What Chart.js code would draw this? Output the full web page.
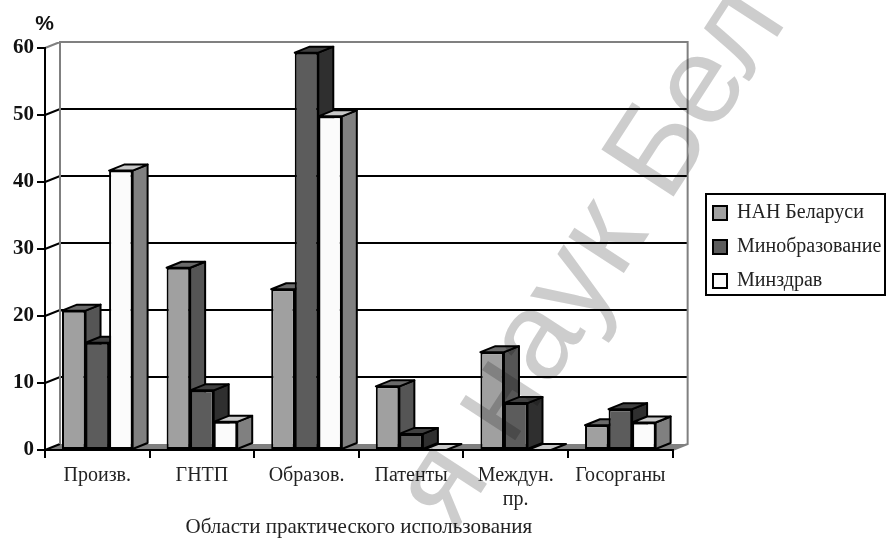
<!DOCTYPE html>
<html>
<head>
<meta charset="utf-8">
<style>body { margin: 0; background: #fff; } canvas { display: block; }</style>
<script src="https://cdn.jsdelivr.net/npm/chart.js@4"></script>
</head>
<body>
<canvas id="chart" width="886" height="538"></canvas>
<script>
const categories = ['Произв.', 'ГНТП', 'Образов.', 'Патенты', ['Междун.', 'пр.'], 'Госорганы']
const nanBelarus = [20.8, 27.2, 24, 9.5, 14.6, 3.7]
const minobr = [16, 8.9, 59.3, 2.4, 7, 6.1]
const minzdrav = [41.7, 4.2, 49.8, 0, 0, 4.1]

const serif = "'Liberation Serif', serif"
const depthX = 15
const depthY = -6

// side and top colours for each dataset
const faces = [
    { side: '#555555', top: '#6a6a6a' },
    { side: '#2f2f2f', top: '#404040' },
    { side: '#808080', top: '#c8c8c8' },
]

function poly(ctx, pts, fill, stroke, width) {
    ctx.beginPath()
    pts.forEach((p, i) => i ? ctx.lineTo(p[0], p[1]) : ctx.moveTo(p[0], p[1]))
    ctx.closePath()
    if (fill) {
        ctx.fillStyle = fill
        ctx.fill()
    }
    if (stroke) {
        ctx.strokeStyle = stroke
        ctx.lineWidth = width
        ctx.stroke()
    }
}

const box3d = {
    id: 'box3d',
    afterLayout(chart) {
        // legend sits in its own framed box, not where the layout puts it
        const legend = chart.legend
        legend.left = 699
        legend.right = chart.width
        legend.top = 189
        legend.bottom = legend.top + legend.height
    },
    beforeDraw(chart) {
        const ctx = chart.ctx
        const y = chart.scales.y
        const { left, right, top, bottom } = chart.chartArea
        ctx.save()
        ctx.fillStyle = '#fff'
        ctx.fillRect(0, 0, chart.width, chart.height)

        // floor
        poly(ctx, [[left, bottom], [left + depthX, bottom + depthY], [right + depthX, bottom + depthY], [right, bottom]], '#808080')

        // grid lines on the back wall and the left wall
        y.ticks.forEach(t => {
            if (t.value === 0 || t.value === 60) return
            const py = y.getPixelForValue(t.value)
            ctx.beginPath()
            ctx.moveTo(left, py)
            ctx.lineTo(left + depthX, py + depthY)
            ctx.lineTo(right + depthX, py + depthY)
            ctx.strokeStyle = '#000'
            ctx.lineWidth = 2
            ctx.stroke()
        })
        ctx.beginPath()
        ctx.moveTo(left, bottom)
        ctx.lineTo(left + depthX, bottom + depthY)
        ctx.strokeStyle = '#000'
        ctx.lineWidth = 2
        ctx.stroke()

        // wall outline
        ctx.beginPath()
        ctx.moveTo(left + depthX, bottom + depthY)
        ctx.lineTo(left + depthX, top + depthY)
        ctx.lineTo(right + depthX, top + depthY)
        ctx.lineTo(right + depthX, bottom + depthY)
        ctx.lineTo(right, bottom)
        ctx.moveTo(left, top)
        ctx.lineTo(left + depthX, top + depthY)
        ctx.strokeStyle = '#808080'
        ctx.lineWidth = 2
        ctx.stroke()
        ctx.restore()
    },
    beforeDatasetsDraw(chart) {
        const ctx = chart.ctx
        ctx.save()
        ctx.lineJoin = 'round'
        categories.forEach((c, i) => {
            chart.data.datasets.forEach((ds, d) => {
                const bar = chart.getDatasetMeta(d).data[i]
                const x0 = bar.x - bar.width / 2
                const x1 = bar.x + bar.width / 2
                const b = bar.base
                const t = bar.y
                if (ds.data[i] > 0) {
                    poly(ctx, [[x1, t], [x1 + depthX, t + depthY], [x1 + depthX, b + depthY], [x1, b]], faces[d].side, '#000', 2)
                }
                poly(ctx, [[x0, t], [x0 + depthX, t + depthY], [x1 + depthX, t + depthY], [x1, t]], faces[d].top, '#000', 2)
                bar.draw(ctx)
            })
        })
        ctx.restore()
        return false
    },
    afterDraw(chart) {
        const ctx = chart.ctx
        ctx.save()

        // legend frame
        ctx.strokeStyle = '#000'
        ctx.lineWidth = 2
        ctx.strokeRect(706, 194, 179, 101)

        // unit label over the value axis
        ctx.fillStyle = '#111'
        ctx.font = "bold 21px 'Liberation Sans', sans-serif"
        ctx.textAlign = 'center'
        ctx.textBaseline = 'middle'
        ctx.fillText('%', 44.5, 24)

        // scanned watermark
        ctx.globalCompositeOperation = 'multiply'
        ctx.translate(668, 205)
        ctx.rotate(-57 * Math.PI / 180)
        ctx.fillStyle = '#cdcdcd'
        ctx.font = "125px 'Liberation Sans', sans-serif"
        ctx.textBaseline = 'alphabetic'
        ctx.textAlign = 'left'
        ctx.fillText('Бел', 0, 0)
        ctx.textAlign = 'right'
        ctx.fillText('я наук ', 0, 0)
        ctx.restore()
    },
}

const ctx = document.getElementById('chart').getContext('2d')
const chart = new Chart(ctx, {
    type: 'bar',
    data: {
        labels: categories,
        datasets: [{
            label: 'НАН Беларуси',
            data: nanBelarus,
            backgroundColor: '#a0a0a0',
        }, {
            label: 'Минобразование',
            data: minobr,
            backgroundColor: '#5c5c5c',
        }, {
            label: 'Минздрав',
            data: minzdrav,
            backgroundColor: '#fbfbfb',
        }],
    },
    options: {
        responsive: false,
        animation: false,
        layout: {
            padding: { top: 48, right: 21, bottom: 0, left: 0 },
        },
        datasets: {
            bar: {
                borderColor: '#000',
                borderWidth: 2,
                borderSkipped: false,
                categoryPercentage: 0.675,
                barPercentage: 1,
            },
        },
        scales: {
            x: {
                afterFit: scale => { scale.height = 88 },
                grid: { drawOnChartArea: false, color: '#000', lineWidth: 2, tickLength: 8 },
                border: { color: '#000', width: 2 },
                ticks: {
                    color: '#222',
                    padding: 6,
                    autoSkip: false,
                    maxRotation: 0,
                    font: { family: serif, size: 20, lineHeight: 1.2 },
                },
                title: {
                    display: true,
                    text: 'Области практического использования',
                    color: '#222',
                    padding: { top: 0, bottom: -2 },
                    font: { family: serif, size: 21 },
                },
            },
            y: {
                min: 0,
                max: 60,
                afterFit: scale => { scale.width = 45 },
                grid: { drawOnChartArea: false, color: '#000', lineWidth: 2, tickLength: 8 },
                border: { color: '#000', width: 2 },
                ticks: {
                    stepSize: 10,
                    color: '#111',
                    padding: 3,
                    font: { family: serif, size: 21, weight: 'bold' },
                },
            },
        },
        plugins: {
            tooltip: { enabled: false },
            legend: {
                position: 'right',
                align: 'start',
                labels: {
                    color: '#222',
                    boxWidth: 14,
                    boxHeight: 14,
                    padding: 14,
                    font: { family: serif, size: 20 },
                },
            },
        },
    },
    plugins: [box3d],
})
</script>
</body>
</html>
